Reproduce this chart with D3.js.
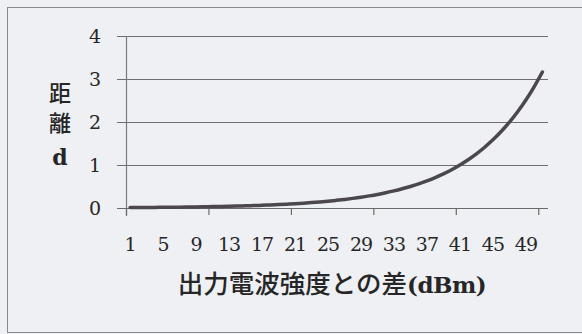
<!DOCTYPE html>
<html><head><meta charset="utf-8">
<script src="https://cdn.jsdelivr.net/npm/d3@7"></script>
<style>
html,body{margin:0;padding:0;background:#eef0f4;}
svg{display:block;}
</style></head>
<body>
<svg id="chart" width="582" height="334"></svg>
<script>
const categories = [1,2,3,4,5,6,7,8,9,10,11,12,13,14,15,16,17,18,19,20,21,22,23,24,25,26,27,28,29,30,31,32,33,34,35,36,37,38,39,40,41,42,43,44,45,46,47,48,49,50,51];
const distance = [0.010,0.011,0.013,0.014,0.016,0.018,0.020,0.022,0.025,0.028,0.032,0.035,0.040,0.045,0.050,0.056,0.063,0.071,0.079,0.089,0.100,0.112,0.126,0.141,0.158,0.178,0.200,0.224,0.251,0.282,0.316,0.355,0.398,0.447,0.501,0.562,0.631,0.708,0.794,0.891,1.000,1.122,1.259,1.413,1.585,1.778,1.995,2.239,2.512,2.818,3.162];
const yTicks = [0,1,2,3,4];
const xLabelCats = [1,5,9,13,17,21,25,29,33,37,41,45,49];
const xMarkBoundaries = [0,10,20,30,40,50];
const xTitleJa = "出力電波強度との差";
const xTitleUnit = "(dBm)";
const yTitle = ["距","離","d"];

const svg = d3.select("#chart");
const plot = {left:126, right:546.5, top:36, bottom:208};

// outer frame
svg.append("rect").attr("x",7.5).attr("y",7.5).attr("width",600).attr("height",325)
  .attr("fill","none").attr("stroke","#8a8a8a").attr("stroke-width",1);

const x = d3.scaleBand().domain(categories).range([plot.left, plot.right]).paddingInner(0).paddingOuter(0);
const y = d3.scaleLinear().domain([0,4]).range([plot.bottom, plot.top]);

// gridlines
svg.append("g").selectAll("line").data(yTicks.filter(d=>d>0)).join("line")
  .attr("x1",117).attr("x2",548)
  .attr("y1",d=>Math.round(y(d))+0.5).attr("y2",d=>Math.round(y(d))+0.5)
  .attr("stroke","#6e6e6e").attr("stroke-width",1);

// y axis labels
const yAxis = d3.axisLeft(y).tickValues(yTicks).tickSize(0).tickPadding(0).tickFormat(d3.format("d"));
const gy = svg.append("g").attr("transform",`translate(101,0)`).call(yAxis);
gy.select(".domain").remove();
gy.selectAll("text").attr("font-family","'DejaVu Serif', serif").attr("font-size",19).attr("fill","#262626").attr("dy","0.36em");

// x axis line (value 0)
svg.append("line").attr("x1",117).attr("x2",548)
  .attr("y1",Math.round(y(0))+0.5).attr("y2",Math.round(y(0))+0.5)
  .attr("stroke","#6a6a6a").attr("stroke-width",1.2);
// y axis line
svg.append("line").attr("x1",plot.left+0.5).attr("x2",plot.left+0.5)
  .attr("y1",plot.top).attr("y2",y(0)+8)
  .attr("stroke","#7a7a7a").attr("stroke-width",1.2);

// x boundary tick marks
svg.append("g").selectAll("line").data(xMarkBoundaries).join("line")
  .attr("x1",k=>x(categories[k])+0.5).attr("x2",k=>x(categories[k])+0.5)
  .attr("y1",y(0)).attr("y2",y(0)+7)
  .attr("stroke","#6a6a6a").attr("stroke-width",1.2);

// x labels
const xAxis = d3.axisBottom(x).tickValues(xLabelCats).tickSize(0).tickPadding(0);
const gx = svg.append("g").attr("transform",`translate(0,251)`).call(xAxis);
gx.select(".domain").remove();
gx.selectAll("text").attr("font-family","'DejaVu Serif', serif").attr("font-size",19).attr("fill","#262626").attr("dy",0).attr("letter-spacing",-1);

// curve
const line = d3.line().x((d,i)=>x(categories[i])+x.bandwidth()/2).y(d=>y(d)).curve(d3.curveMonotoneX);
svg.append("path").datum(distance).attr("d",line)
  .attr("fill","none").attr("stroke","#4a474e").attr("stroke-width",3.5).attr("stroke-linecap","round");

// x title
const xt = svg.append("text").attr("x",332).attr("y",293).attr("text-anchor","middle").attr("fill","#262626");
xt.append("tspan").attr("font-family","'Noto Sans CJK JP', sans-serif").attr("font-size",25.5).attr("font-weight",500).text(xTitleJa);
xt.append("tspan").attr("font-family","'DejaVu Serif', serif").attr("font-size",23).attr("font-weight",700).attr("letter-spacing",-0.5).text(xTitleUnit);

// y title
svg.append("g").selectAll("text").data(yTitle).join("text")
  .attr("x",60).attr("y",(d,i)=>[101,131,165][i]).attr("text-anchor","middle")
  .attr("font-family",(d,i)=>i<2?"'Noto Sans CJK JP', sans-serif":"'DejaVu Serif', serif")
  .attr("font-weight",(d,i)=>i<2?500:700)
  .attr("font-size",(d,i)=>i<2?22:22).attr("fill","#262626")
  .text(d=>d);
</script>
</body></html>
